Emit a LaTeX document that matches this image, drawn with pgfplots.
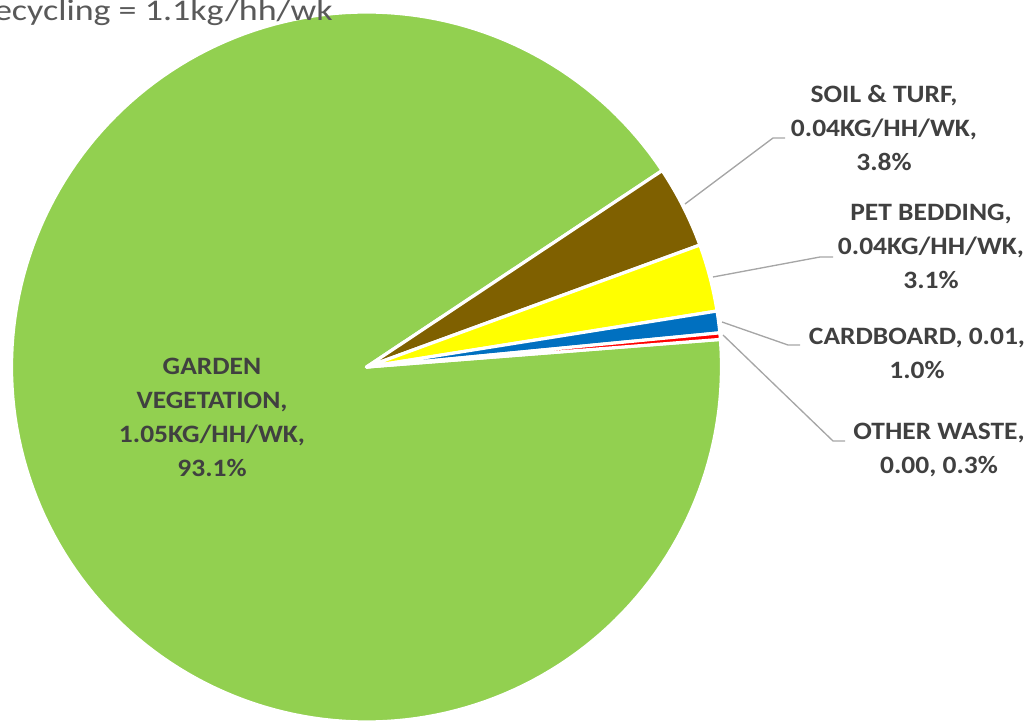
\documentclass[border=0pt]{standalone}
\usepackage{fontspec}
\setmainfont{Carlito}
\usepackage{pgfplots}
\usepackage{pgfplotstable}
\pgfplotsset{compat=1.18}
\definecolor{cGarden}{HTML}{92D050}
\definecolor{cSoil}{HTML}{7F6000}
\definecolor{cPet}{HTML}{FFFF00}
\definecolor{cCard}{HTML}{0070C0}
\definecolor{cOther}{HTML}{FF0000}
\definecolor{lbl}{HTML}{404040}
\definecolor{ttl}{HTML}{595959}
\definecolor{leader}{HTML}{A6A6A6}

% shares of garden waste recycling (percent)
\pgfplotstableread{
slice value
Garden 93.1
Soil 3.8
Pet 3.1
Cardboard 1.0
Other 0.3
}\piedata

\newcommand\getv[2]{\pgfplotstablegetelem{#1}{value}\of\piedata\let#2\pgfplotsretval}
\getv{0}\vGarden
\getv{1}\vSoil
\getv{2}\vPet
\getv{3}\vCard
\getv{4}\vOther
\pgfmathsetmacro{\total}{\vGarden+\vSoil+\vPet+\vCard+\vOther}
\def\startA{33.6}
\def\cx{366.5}
\def\cy{355}
\def\R{355}
\pgfmathsetmacro{\aGardenEnd}{\startA+360*(\vGarden/\total)}
\pgfmathsetmacro{\aSoil}{\startA-360*(\vSoil/\total)}
\pgfmathsetmacro{\aPet}{\aSoil-360*(\vPet/\total)}
\pgfmathsetmacro{\aCard}{\aPet-360*(\vCard/\total)}
\pgfmathsetmacro{\aOther}{\aCard-360*(\vOther/\total)}

\newcommand\lblfont{\fontsize{18.75}{25.5}\selectfont\bfseries}
\newcommand\lbl[1]{\scalebox{1.1}[1]{\begin{tabular}{@{}c@{}}#1\end{tabular}}}

\begin{document}
\begin{tikzpicture}
\begin{axis}[hide axis, scale only axis, width=773.25pt, height=541.5pt,
  xmin=0, xmax=1031, ymin=0, ymax=722, clip=true]
  \pgfplotsset{every axis plot/.append style={draw=white, line width=2.4pt, line join=round}}
  \addplot[fill=cGarden, domain=\startA:\aGardenEnd, samples=200, variable=\t]
    ({\cx+\R*cos(\t)},{\cy+\R*sin(\t)}) -- (\cx,\cy) -- cycle;
  \addplot[fill=cSoil, domain=\aSoil:\startA, samples=20, variable=\t]
    ({\cx+\R*cos(\t)},{\cy+\R*sin(\t)}) -- (\cx,\cy) -- cycle;
  \addplot[fill=cPet, domain=\aPet:\aSoil, samples=20, variable=\t]
    ({\cx+\R*cos(\t)},{\cy+\R*sin(\t)}) -- (\cx,\cy) -- cycle;
  \addplot[fill=cCard, domain=\aCard:\aPet, samples=10, variable=\t]
    ({\cx+\R*cos(\t)},{\cy+\R*sin(\t)}) -- (\cx,\cy) -- cycle;
  \addplot[fill=cOther, domain=\aOther:\aCard, samples=5, variable=\t]
    ({\cx+\R*cos(\t)},{\cy+\R*sin(\t)}) -- (\cx,\cy) -- cycle;
  % leader lines
  \addplot[draw=leader, line width=1pt] coordinates {(685,518) (773,584) (785,584)};
  \addplot[draw=leader, line width=1pt] coordinates {(713,445) (820,465) (833,465)};
  \addplot[draw=leader, line width=1pt] coordinates {(722,400) (788,377) (800,377)};
  \addplot[draw=leader, line width=1pt] coordinates {(723,387) (833,281) (845,281)};
  % labels
  \node[text=lbl, font=\lblfont, inner sep=0pt] at (212,303) {\lbl{GARDEN\\VEGETATION,\\1.05KG/HH/WK,\\93.1\%}};
  \node[text=lbl, font=\lblfont, inner sep=0pt] at (884,592) {\lbl{SOIL \& TURF,\\0.04KG/HH/WK,\\3.8\%}};
  \node[text=lbl, font=\lblfont, inner sep=0pt] at (931,474) {\lbl{PET BEDDING,\\0.04KG/HH/WK,\\3.1\%}};
  \node[text=lbl, font=\lblfont, inner sep=0pt] at (917,367.5) {\lbl{CARDBOARD, 0.01,\\1.0\%}};
  \node[text=lbl, font=\lblfont, inner sep=0pt] at (939,272.5) {\lbl{OTHER WASTE,\\0.00, 0.3\%}};
  \node[anchor=base east, text=ttl, font=\fontsize{22.5}{27}\selectfont, inner sep=0pt] at (333,701) {\scalebox{1.2}[1]{Recycling = 1.1kg/hh/wk}};
\end{axis}
\pgfresetboundingbox
\path[use as bounding box] (current axis.south west) rectangle (current axis.north east);
\end{tikzpicture}
\end{document}
